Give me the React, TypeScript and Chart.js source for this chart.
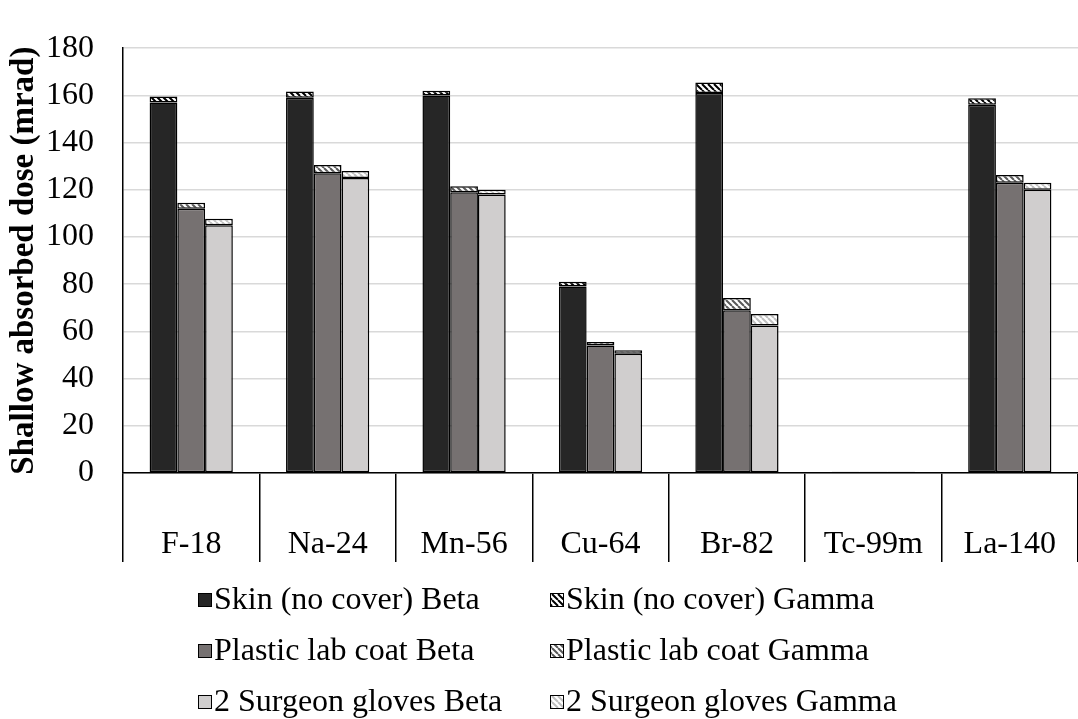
import React, { useEffect, useRef } from "react";
import { Chart, registerables } from "chart.js";

Chart.register(...registerables);

const categories = ["F-18", "Na-24", "Mn-56", "Cu-64", "Br-82", "Tc-99m", "La-140"];
const skinBeta = [157, 159, 160, 79, 161, 0.4, 156];
const skinGamma = [2.5, 2.7, 2, 2, 4.5, 0.1, 2.8];
const plasticBeta = [112, 127, 119, 54, 69, 0.4, 123];
const plasticGamma = [2.5, 3.5, 2.5, 1.5, 5.2, 0.1, 3.3];
const glovesBeta = [105, 125, 118, 50.5, 62.5, 0.4, 120];
const glovesGamma = [2.7, 3, 2, 1.5, 4.9, 0.1, 3];
const yTicks = { min: 0, max: 180, step: 20 };
const yTitle = "Shallow absorbed dose (mrad)";

const FONT = '"Liberation Serif", "Times New Roman", serif';
const LEG_X = [198, 550];
const LEG_Y = [600, 651, 702];

function makeHatch(color: string) {
  const c = document.createElement("canvas");
  c.width = 6;
  c.height = 6;
  const ctx = c.getContext("2d")!;
  ctx.fillStyle = "#ffffff";
  ctx.fillRect(0, 0, 6, 6);
  ctx.strokeStyle = color;
  ctx.lineWidth = 2;
  ctx.beginPath();
  for (let k = -6; k <= 6; k += 6) {
    ctx.moveTo(k, 0);
    ctx.lineTo(k + 6, 6);
  }
  ctx.stroke();
  return ctx.createPattern(c, "repeat") as CanvasPattern;
}

const gridLegend = {
  id: "gridLegend",
  afterDraw(chart: any) {
    const ctx = chart.ctx as CanvasRenderingContext2D;
    chart.data.datasets.forEach((ds: any, i: number) => {
      const col = i % 2;
      const row = Math.floor(i / 2);
      const x = LEG_X[col];
      const y = LEG_Y[row];
      ctx.save();
      ctx.fillStyle = ds.backgroundColor;
      ctx.fillRect(x, y - 7, 14, 14);
      ctx.strokeStyle = "#000";
      ctx.lineWidth = 1;
      ctx.strokeRect(x + 0.5, y - 6.5, 13, 13);
      ctx.fillStyle = "#000";
      ctx.font = `32px ${FONT}`;
      ctx.textBaseline = "middle";
      ctx.textAlign = "left";
      ctx.fillText(ds.label, x + 16, y + 1);
      ctx.restore();
    });
  },
};

export default function App() {
  const ref = useRef<HTMLCanvasElement>(null);
  useEffect(() => {
    if (!ref.current) return;
    const border = { borderColor: "#000", borderWidth: 1.5, borderSkipped: false as const };
    const chart = new Chart(ref.current, {
      type: "bar",
      data: {
        labels: categories,
        datasets: [
          { label: "Skin (no cover) Beta", data: skinBeta, stack: "s", backgroundColor: "#262626", ...border },
          { label: "Skin (no cover) Gamma", data: skinGamma, stack: "s", backgroundColor: makeHatch("#000000"), ...border },
          { label: "Plastic lab coat Beta", data: plasticBeta, stack: "p", backgroundColor: "#767171", ...border },
          { label: "Plastic lab coat Gamma", data: plasticGamma, stack: "p", backgroundColor: makeHatch("#595959"), ...border },
          { label: "2 Surgeon gloves Beta", data: glovesBeta, stack: "g", backgroundColor: "#d0cece", ...border },
          { label: "2 Surgeon gloves Gamma", data: glovesGamma, stack: "g", backgroundColor: makeHatch("#bfbfbf"), ...border },
        ] as any,
      },
      options: {
        responsive: false,
        animation: false,
        layout: { padding: { left: 0, right: -7, top: 23, bottom: 157 } },
        datasets: { bar: { categoryPercentage: 0.61, barPercentage: 1.0 } },
        plugins: { legend: { display: false }, tooltip: { enabled: false } },
        scales: {
          x: {
            stacked: true,
            grid: { offset: true, drawOnChartArea: false, drawTicks: true, tickLength: 89, color: "#000", lineWidth: 1.5 },
            border: { display: true, color: "#000", width: 1.5 },
            ticks: { font: { family: FONT, size: 32 }, color: "#000", padding: -37, maxRotation: 0 },
            afterFit: (s: any) => { s.height = 89; },
          },
          y: {
            stacked: true,
            min: yTicks.min,
            max: yTicks.max,
            ticks: { stepSize: yTicks.step, font: { family: FONT, size: 32 }, color: "#000", padding: 29 },
            grid: { color: "#d9d9d9", lineWidth: 1.5, drawTicks: false },
            border: { display: true, color: "#000", width: 1.5 },
            title: {
              display: true,
              text: yTitle,
              font: { family: FONT, size: 33, weight: "bold" },
              color: "#000",
              padding: { top: 5, bottom: 0 },
            },
            afterFit: (s: any) => { s.width = 123; },
          },
        },
      } as any,
      plugins: [gridLegend],
    });
    return () => chart.destroy();
  }, []);
  return (
    <div style={{ position: "fixed", left: 0, top: 0, width: 1078, height: 719, background: "#fff" }}>
      <canvas ref={ref} width={1078} height={719} />
    </div>
  );
}
